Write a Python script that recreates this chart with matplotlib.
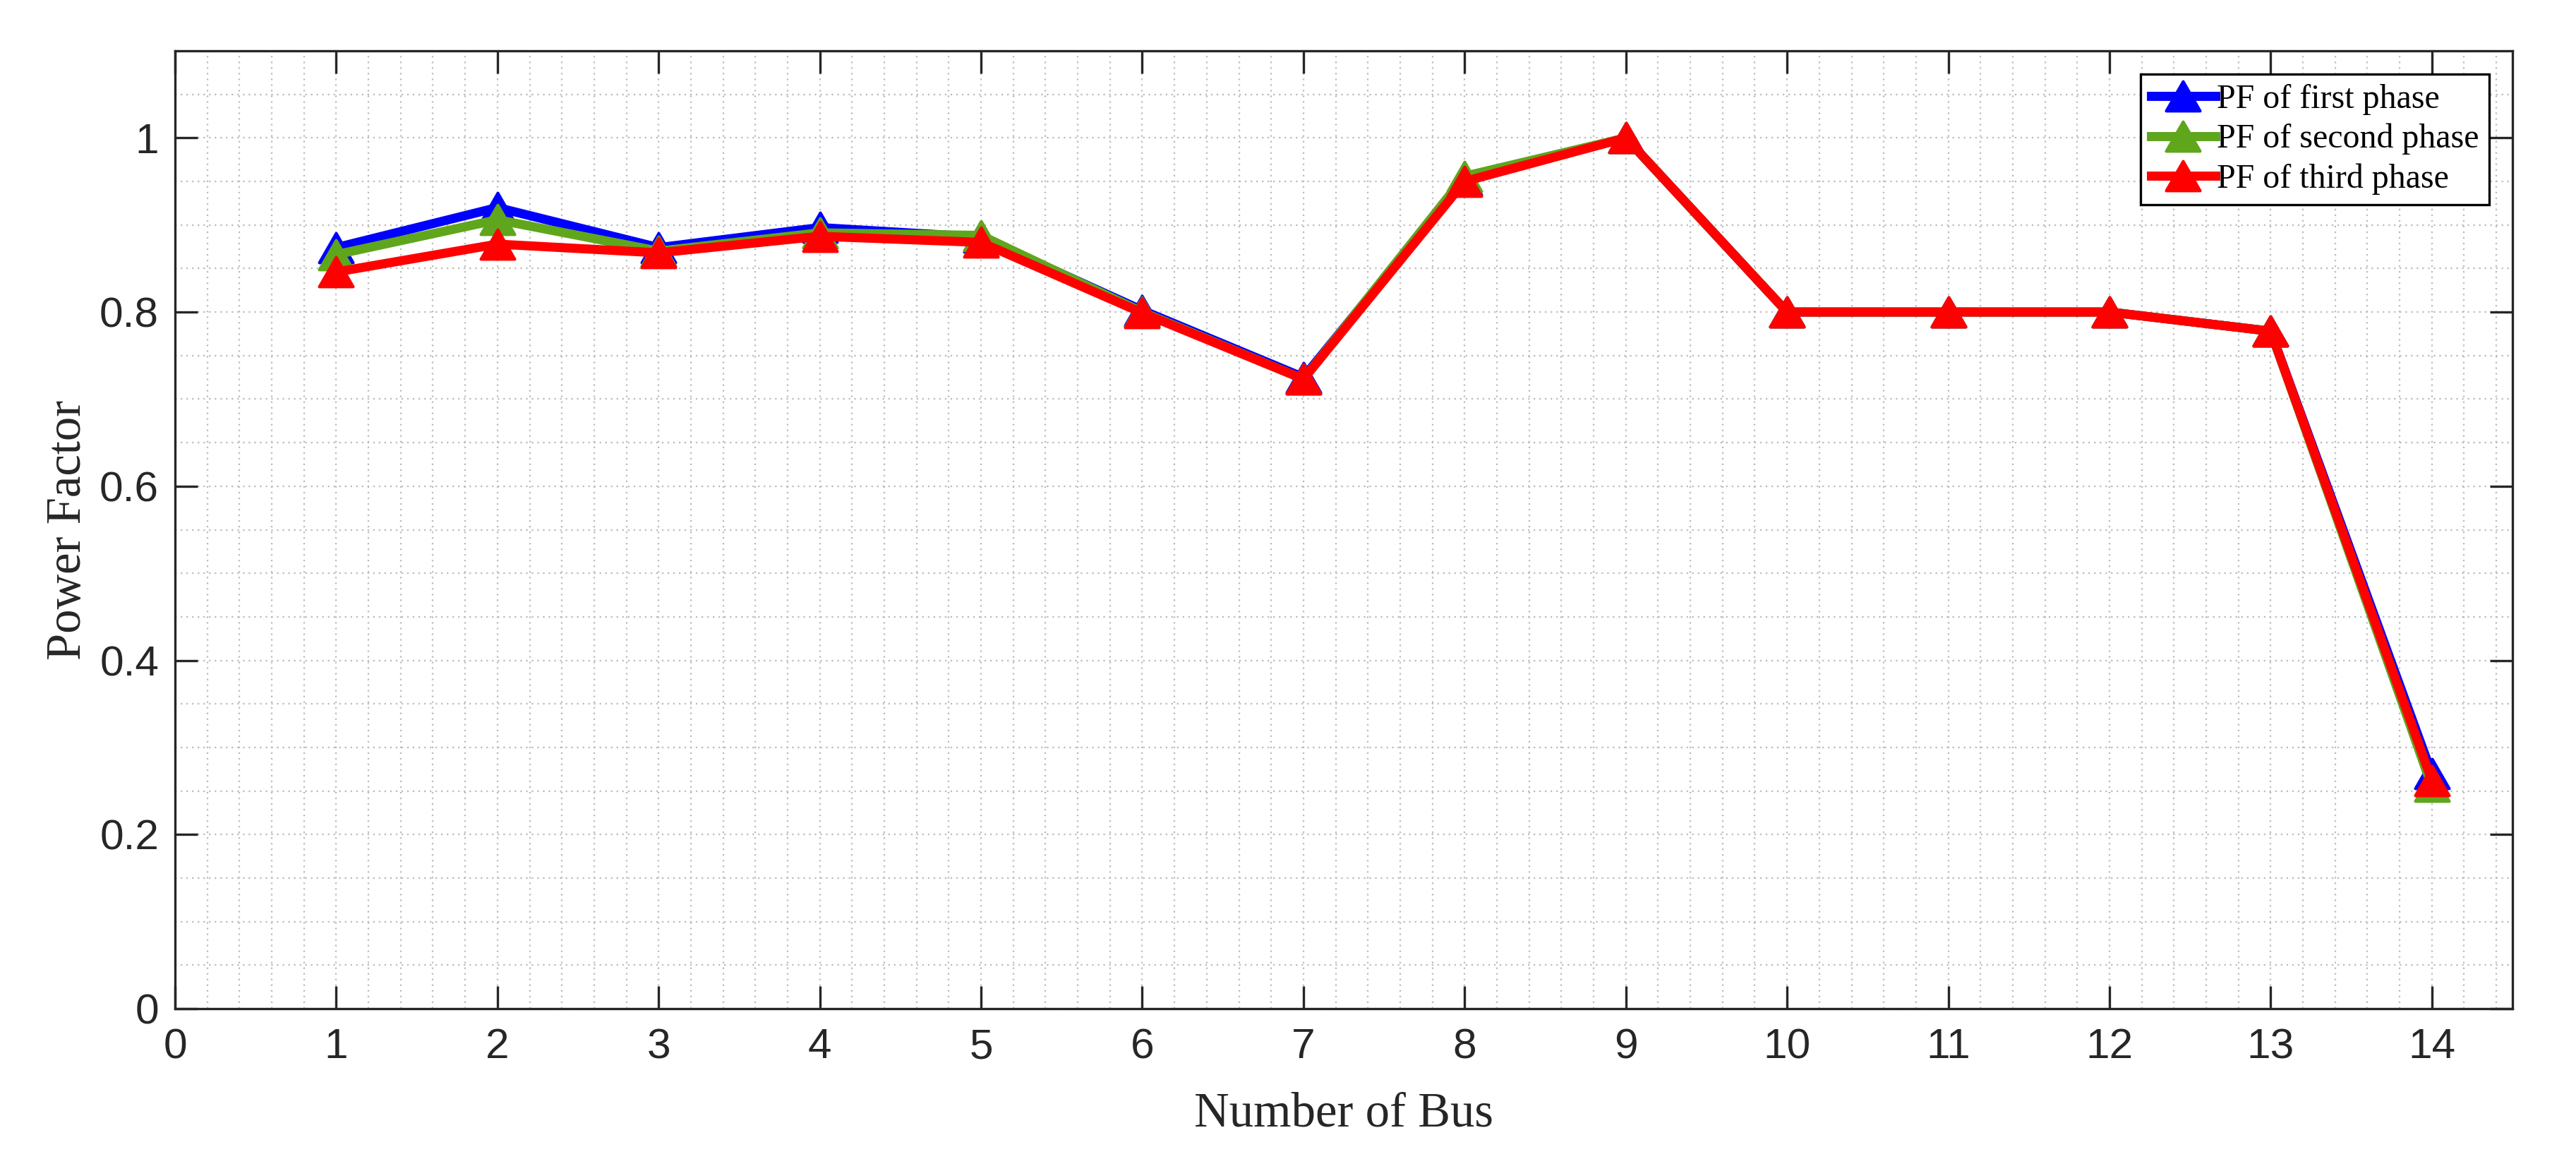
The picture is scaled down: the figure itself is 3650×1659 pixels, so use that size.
import numpy as np
import matplotlib
matplotlib.use("Agg")
import matplotlib.pyplot as plt
from matplotlib.ticker import MultipleLocator
from matplotlib.path import Path

# power factor per bus
bus = [1, 2, 3, 4, 5, 6, 7, 8, 9, 10, 11, 12, 13, 14]
pf_first = [0.874, 0.920, 0.874, 0.897, 0.886, 0.802, 0.725, 0.952, 1.0, 0.8, 0.8, 0.8, 0.778, 0.270]
pf_second = [0.866, 0.906, 0.870, 0.891, 0.888, 0.800, 0.723, 0.956, 1.0, 0.8, 0.8, 0.8, 0.778, 0.255]
pf_third = [0.846, 0.878, 0.868, 0.887, 0.880, 0.799, 0.723, 0.950, 1.0, 0.8, 0.8, 0.8, 0.778, 0.262]
labels = ["PF of first phase", "PF of second phase", "PF of third phase"]
colors = ["#0000ff", "#5fa61c", "#ff0000"]

xticks = list(range(0, 15))
yticks = [0, 0.2, 0.4, 0.6, 0.8, 1.0]
yticklabels = ["0", "0.2", "0.4", "0.6", "0.8", "1"]

# matlab-like triangle, a bit wider than tall
tri = Path([(0, 0.87), (-1, -0.87), (1, -0.87), (0, 0.87)],
           [Path.MOVETO, Path.LINETO, Path.LINETO, Path.CLOSEPOLY])

W, H, DPI = 3650, 1659, 300
fig = plt.figure(figsize=(W / DPI, H / DPI), dpi=DPI)
ax = fig.add_axes([248 / W, 1 - 1429 / H, (3560 - 248) / W, (1429 - 72) / H])

for y, lab, c in zip([pf_first, pf_second, pf_third], labels, colors):
    ax.plot(bus, y, color=c, lw=3.1, marker=tri, ms=11.5, mec=c, mfc=c, label=lab)

ax.set_xlim(0, 14.5)
ax.set_ylim(0, 1.1)
ax.set_xticks(xticks)
ax.set_yticks(yticks)
ax.set_yticklabels(yticklabels)
ax.xaxis.set_minor_locator(MultipleLocator(0.2))
ax.yaxis.set_minor_locator(MultipleLocator(0.05))

for t in ax.get_xticklabels() + ax.get_yticklabels():
    t.set_fontfamily("Liberation Sans")
    t.set_fontsize(14.5)
    t.set_color("#262626")

ax.tick_params(which="major", direction="in", length=7.7, width=0.8,
               top=True, right=True, color="#262626")
ax.tick_params(axis="x", which="major", pad=6.5)
ax.tick_params(axis="y", which="major", pad=5.5)
ax.tick_params(which="minor", length=0, top=True, right=True)

ax.grid(which="both", linestyle=(0, (1, 2.5)), color="#bdbdbd", lw=0.55)
ax.set_axisbelow(True)
for s in ax.spines.values():
    s.set_linewidth(0.8)
    s.set_color("#262626")

ax.set_xlabel("Number of Bus", family="Liberation Serif", fontsize=16.5,
              color="#262626", labelpad=8.5)
ax.set_ylabel("Power Factor", family="Liberation Serif", fontsize=16.5,
              color="#262626", labelpad=3)

leg = ax.legend(loc="upper right", bbox_to_anchor=(0.990, 0.976), borderaxespad=0,
                prop={"family": "Liberation Serif", "size": 11.5},
                fancybox=False, framealpha=1, edgecolor="black",
                handlelength=1.9, handletextpad=0.05, borderpad=0.3,
                labelspacing=0.25)
leg.get_frame().set_linewidth(0.8)

fig.savefig("out.png", dpi=DPI)
